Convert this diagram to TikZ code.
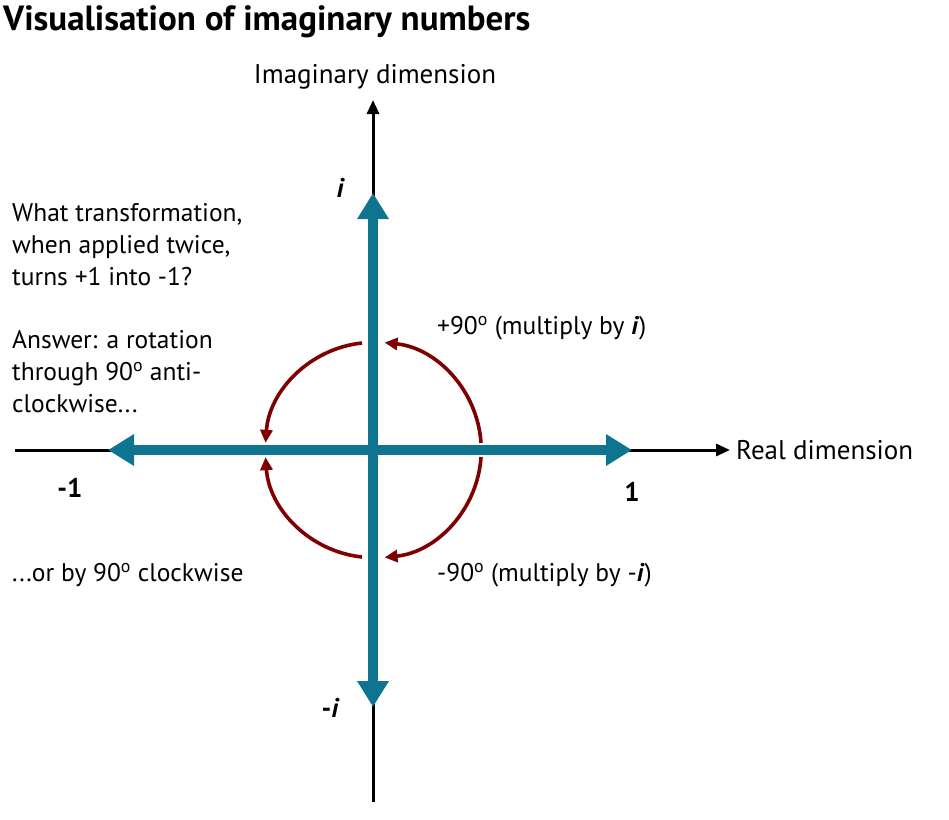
\documentclass[tikz,border=0pt]{standalone}
\usepackage{fontspec}
\setmainfont{PT Sans}
\usetikzlibrary{arrows.meta}
\definecolor{teal1}{HTML}{0E7490}
\definecolor{dred}{HTML}{7F0000}
\begin{document}
\begin{tikzpicture}[x=1pt,y=-1pt,
  ax/.style={line width=3pt,-{Triangle[length=14pt,width=12pt]}},
  tl/.style={teal1,line width=10pt,{Triangle[length=26pt,width=30pt]}-{Triangle[length=26pt,width=30pt]}},
  rot/.style={dred,line width=3.6pt,-{Triangle[length=13pt,width=12pt]}},
  txt/.style={font=\fontsize{25.5}{32}\selectfont,anchor=west,align=left,inner sep=0pt},
  num/.style={font=\fontsize{27}{30}\selectfont\bfseries,inner sep=0pt}]
\useasboundingbox (0,0) rectangle (949,819);
\coordinate (O) at (373,450);
\coordinate (L) at (15,450); \coordinate (R) at (730,450);
\coordinate (B) at (373,802); \coordinate (T) at (373,100);
\draw[ax] (L) -- (R);
\draw[ax] (B) -- (T);
\coordinate (a1) at (481,443); \coordinate (a2) at (362,343);
\coordinate (a3) at (481,457); \coordinate (a4) at (362,557);
\draw[rot] (a1) arc[start angle=-3.7,end angle=-84,radius=108];
\draw[rot] (a2) arc[start angle=-96,end angle=-176,radius=108];
\draw[rot] (a3) arc[start angle=3.7,end angle=84,radius=108];
\draw[rot] (a4) arc[start angle=96,end angle=176,radius=108];
\coordinate (tl) at (108,450); \coordinate (tr) at (632,450);
\coordinate (tt) at (373,193); \coordinate (tb) at (373,707);
\draw[tl] (tl) -- (tr);
\draw[tl] (tb) -- (tt);
\node[font=\fontsize{35}{38}\selectfont\bfseries,anchor=west,inner sep=0pt] (title) at (3,22) {Visualisation of imaginary numbers};
\node[font=\fontsize{27}{30}\selectfont,inner sep=0pt] (ylab) at (375,77) {Imaginary dimension};
\node[font=\fontsize{27}{30}\selectfont,anchor=west,inner sep=0pt] (xlab) at (736,450) {Real dimension};
\node[num] (i) at (340,188) {\itshape i};
\node[num] (mi) at (330,708) {-\itshape i};
\node[num] (m1) at (70,488) {-1};
\node[num] (one) at (632,492) {1};
\node[txt] (q) at (12,245) {What transformation,\\when applied twice,\\turns +1 into -1?};
\node[txt] (ans) at (12,372) {Answer: a rotation\\through 90\textsuperscript{o} anti-\\clockwise...};
\node[txt] (cw) at (12,575) {...or by 90\textsuperscript{o} clockwise};
\node[txt] (p90) at (437,328) {+90\textsuperscript{o} (multiply by \textbf{\textit{i}})};
\node[txt] (m90) at (437,575) {-90\textsuperscript{o} (multiply by -\textbf{\textit{i}})};
\end{tikzpicture}
\end{document}
